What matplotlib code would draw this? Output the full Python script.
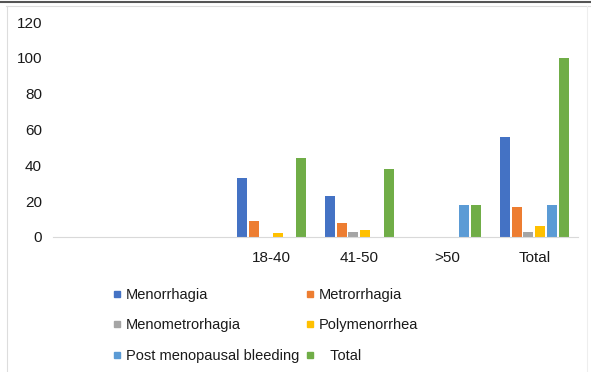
import numpy as np
import matplotlib.pyplot as plt
from matplotlib.lines import Line2D

plt.rcParams['font.family'] = ['Liberation Sans', 'DejaVu Sans']

# Données
categories = ['', '', '18-40', '41-50', '>50', 'Total']
series_names = ['Menorrhagia', 'Metrorrhagia', 'Menometrorhagia', 'Polymenorrhea',
                'Post menopausal bleeding', '   Total']
menorrhagia = [0, 0, 33, 23, 0, 56]
metrorrhagia = [0, 0, 9, 8, 0, 17]
menometrorhagia = [0, 0, 0, 3, 0, 3]
polymenorrhea = [0, 0, 2, 4, 0, 6]
post_menopausal = [0, 0, 0, 0, 18, 18]
total = [0, 0, 44, 38, 18, 100]
yticks = [0, 20, 40, 60, 80, 100, 120]

series = [menorrhagia, metrorrhagia, menometrorhagia, polymenorrhea, post_menopausal, total]
colors = ['#4472C4', '#ED7D31', '#A5A5A5', '#FFC000', '#5B9BD5', '#70AD47']

fig = plt.figure(figsize=(5.91, 3.72), dpi=100)
ax = fig.add_axes([53 / 591, 1 - 237 / 372, 525 / 591, 215 / 372])

x = np.arange(len(categories))
step = 0.134
width = 0.114
for i, vals in enumerate(series):
    ax.bar(x + (i - 2.5) * step, vals, width=width, color=colors[i], label=series_names[i])

ax.set_xlim(-0.5, len(categories) - 0.5)
ax.set_ylim(0, 120)
ax.set_yticks(yticks)
ax.set_xticks(x)
ax.set_xticklabels(categories)
ax.tick_params(axis='y', length=0, pad=8, labelsize=11, labelcolor='#1a1a1a')
ax.tick_params(axis='x', length=0, pad=10, labelsize=11, labelcolor='#1a1a1a')
for s in ['top', 'right', 'left']:
    ax.spines[s].set_visible(False)
ax.spines['bottom'].set_color('#d9d9d9')

# Légende, remplie ligne par ligne
order = [0, 2, 4, 1, 3, 5]
handles = [Line2D([], [], marker='s', linestyle='none', markersize=5,
                  color=colors[i]) for i in order]
labels = [series_names[i] for i in order]
fig.legend(handles, labels, ncol=2, frameon=False, fontsize=10.5,
           loc='upper left', bbox_to_anchor=(113 / 591, 1 - 288 / 372),
           handlelength=0.6, handletextpad=0.3, columnspacing=0.4,
           labelspacing=1.13, borderaxespad=0, borderpad=0,
           labelcolor='#1a1a1a')

# Bordures du tableau
fig.add_artist(Line2D([0, 1], [1 - 1.5 / 372, 1 - 1.5 / 372], color='#555555', lw=1.5))
fig.add_artist(Line2D([0.01, 1], [1 - 6 / 372, 1 - 6 / 372], color='#dddddd', lw=0.8))
fig.add_artist(Line2D([7 / 591, 7 / 591], [0, 1 - 6 / 372], color='#dddddd', lw=0.8))
fig.add_artist(Line2D([587 / 591, 587 / 591], [0, 1 - 6 / 372], color='#eeeeee', lw=0.8))

fig.savefig('out.png', dpi=100)
